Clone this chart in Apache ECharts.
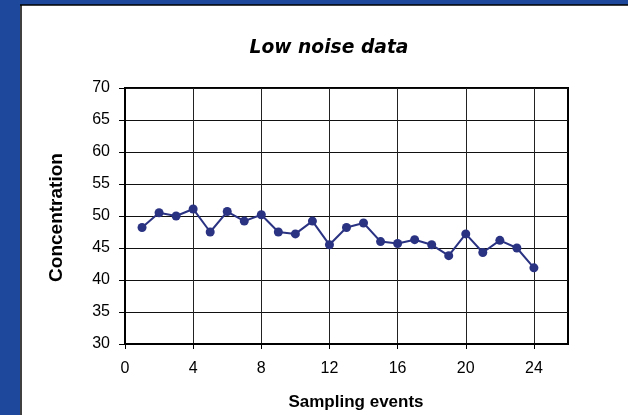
<!DOCTYPE html>
<html>
<head>
<meta charset="utf-8">
<script src="https://cdn.jsdelivr.net/npm/echarts@6/dist/echarts.min.js"></script>
<style>
html,body{margin:0;padding:0;background:#fff;}
#chart{width:628px;height:415px;}
</style>
</head>
<body>
<div id="chart"></div>
<script>
var titleText = 'Low noise data';
var xAxisTitle = 'Sampling events';
var yAxisTitle = 'Concentration';
var samplingEvents = [1,2,3,4,5,6,7,8,9,10,11,12,13,14,15,16,17,18,19,20,21,22,23,24];
var concentration = [48.2,50.5,50.0,51.1,47.5,50.7,49.2,50.2,47.5,47.2,49.2,45.5,48.2,48.9,46.0,45.7,46.3,45.5,43.8,47.2,44.3,46.2,45.0,41.9];
var xTickValues = [0,4,8,12,16,20,24];
var yTickValues = [30,35,40,45,50,55,60,65,70];

var chart = echarts.init(document.getElementById('chart'), null, {renderer:'canvas'});
var pts = samplingEvents.map(function(x,i){return [x, concentration[i]];});
var font = '"Liberation Sans", Arial, sans-serif';
var frameBlue = '#1E489B';

chart.setOption({
  animation:false,
  backgroundColor:'#fff',
  textStyle:{fontFamily:font},
  grid:{left:125,top:88,width:443,height:256,show:true,borderColor:'#000',borderWidth:2,backgroundColor:'transparent'},
  xAxis:{
    type:'value', min:0, max:26, interval:4,
    axisLine:{show:true,onZero:false,lineStyle:{color:'#000',width:2}},
    axisTick:{show:true,length:5,inside:false,customValues:xTickValues,lineStyle:{color:'#000',width:1}},
    axisLabel:{customValues:xTickValues,color:'#000',fontSize:16,fontFamily:font,margin:17},
    splitLine:{show:true,lineStyle:{color:'#222',width:1}}
  },
  yAxis:{
    type:'value', min:30, max:70, interval:5,
    axisLine:{show:true,onZero:false,lineStyle:{color:'#000',width:2}},
    axisTick:{show:true,length:6,inside:false,lineStyle:{color:'#000',width:1}},
    axisLabel:{color:'#000',fontSize:16,fontFamily:font,margin:15},
    splitLine:{show:true,lineStyle:{color:'#111',width:1}}
  },
  series:[{
    type:'line',
    data:pts,
    symbol:'circle',
    symbolSize:9,
    lineStyle:{color:'#2A3282',width:2},
    itemStyle:{color:'#2A3282'},
    z:5
  }],
  graphic:[
    {type:'rect',left:0,top:0,shape:{width:628,height:5},style:{fill:frameBlue},silent:true},
    {type:'rect',left:0,top:0,shape:{width:20,height:415},style:{fill:frameBlue},silent:true},
    {type:'line',shape:{x1:20,y1:5,x2:628,y2:5},style:{stroke:'#000',lineWidth:1.5},silent:true},
    {type:'line',shape:{x1:21,y1:5,x2:21,y2:415},style:{stroke:'#000',lineWidth:1.5},silent:true},
    {type:'text',x:329,y:48,style:{text:titleText,font:'italic bold 18.7px "DejaVu Sans", sans-serif',fill:'#000',textAlign:'center',textVerticalAlign:'middle'},silent:true},
    {type:'text',x:356,y:402,style:{text:xAxisTitle,font:'bold 17px "Liberation Sans", Arial, sans-serif',fill:'#000',textAlign:'center',textVerticalAlign:'middle'},silent:true},
    {type:'text',x:57,y:217.5,rotation:Math.PI/2,style:{text:yAxisTitle,font:'bold 19px "Liberation Sans", Arial, sans-serif',fill:'#000',textAlign:'center',textVerticalAlign:'middle'},silent:true}
  ]
});
</script>
</body>
</html>
